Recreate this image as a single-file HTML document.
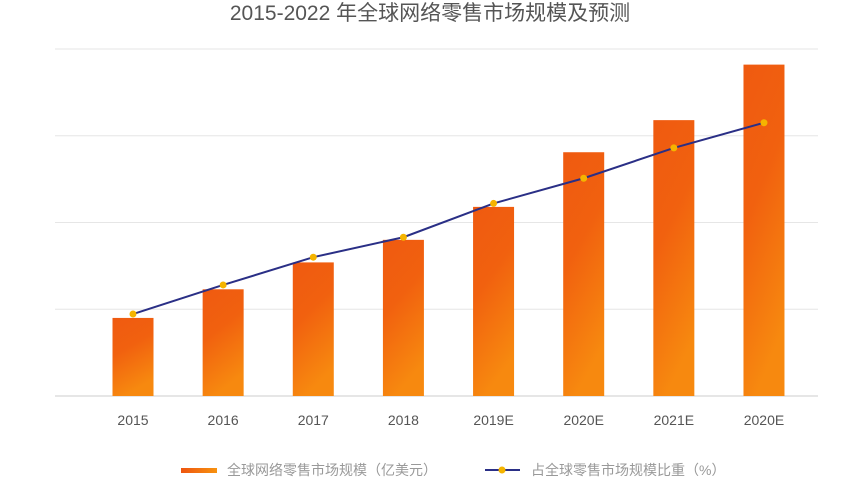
<!DOCTYPE html>
<html><head><meta charset="utf-8">
<style>
body{margin:0;background:#fff;width:861px;height:479px;overflow:hidden;font-family:"Liberation Sans","Noto Sans CJK SC",sans-serif}
</style></head>
<body>
<svg id="chart" width="861" height="479" xmlns="http://www.w3.org/2000/svg">
<defs>
<linearGradient id="barGrad" x1="0" y1="0" x2="0.3" y2="1">
<stop offset="0" stop-color="#ef5a10"/><stop offset="0.45" stop-color="#f1610f"/><stop offset="1" stop-color="#f7890f"/>
</linearGradient>
<linearGradient id="legGrad" x1="0" y1="0" x2="1" y2="0">
<stop offset="0" stop-color="#ee5510"/><stop offset="1" stop-color="#f7920f"/>
</linearGradient>
</defs>
<text x="430" y="20" text-anchor="middle" font-size="21" fill="#555">2015-2022 年全球网络零售市场规模及预测</text>
<g id="grid"></g><g id="bars"></g><g id="xlabels"></g><g id="line"></g>
<g>
<rect x="181" y="468" width="36" height="5" fill="url(#legGrad)"/>
<text x="227" y="475" font-size="14" fill="#999">全球网络零售市场规模（亿美元）</text>
<line x1="485" y1="470" x2="520" y2="470" stroke="#2a2f86" stroke-width="2"/>
<circle cx="502" cy="470" r="3.5" fill="#f5b400"/>
<text x="531" y="475" font-size="14" fill="#999">占全球零售市场规模比重（%）</text>
</g>
</svg>
<script>
const categories=["2015","2016","2017","2018","2019E","2020E","2021E","2020E"];
const marketSize=[9000,12300,15400,18000,21800,28100,31800,38200];
const sharePct=[9.45,12.8,16.0,18.3,22.2,25.1,28.6,31.5];
const gridTicks=[0,10000,20000,30000,40000];
const NS="http://www.w3.org/2000/svg";
const plotLeft=55,plotRight=818,plotTop=49,plotBottom=396,barW=41;
const firstX=133,stepX=90.14;
const xPos=i=>firstX+stepX*i;
const yBar=v=>plotBottom-v/40000*(plotBottom-plotTop);
const yPct=v=>plotBottom-v/40*(plotBottom-plotTop);
function mk(tag,attrs,parent){const e=document.createElementNS(NS,tag);for(const k in attrs)e.setAttribute(k,attrs[k]);document.getElementById(parent).appendChild(e);return e;}
gridTicks.forEach((t,i)=>{
 const l=mk('line',{x1:plotLeft,x2:plotRight,y1:yBar(t),y2:yBar(t),stroke:i===0?'#ccc':'#e6e6e6','stroke-width':1},'grid');
 
 
});
categories.forEach((c,i)=>{
 const r=mk('rect',{x:xPos(i)-barW/2,y:yBar(marketSize[i]),width:barW,height:plotBottom-yBar(marketSize[i]),fill:'url(#barGrad)'},'bars');
 
 
 const t=mk('text',{x:xPos(i),y:425,'text-anchor':'middle','font-size':14,fill:'#555'},'xlabels');
 t.textContent=c;
 
 
});
const pl=mk('polyline',{points:sharePct.map((v,i)=>xPos(i)+','+yPct(v)).join(' '),fill:'none',stroke:'#2a2f86','stroke-width':2},'line');


sharePct.forEach((v,i)=>{
 const p=mk('circle',{cx:xPos(i),cy:yPct(v),r:3.5,fill:'#f5b400'},'line');
 
 
});
</script>
</body></html>
